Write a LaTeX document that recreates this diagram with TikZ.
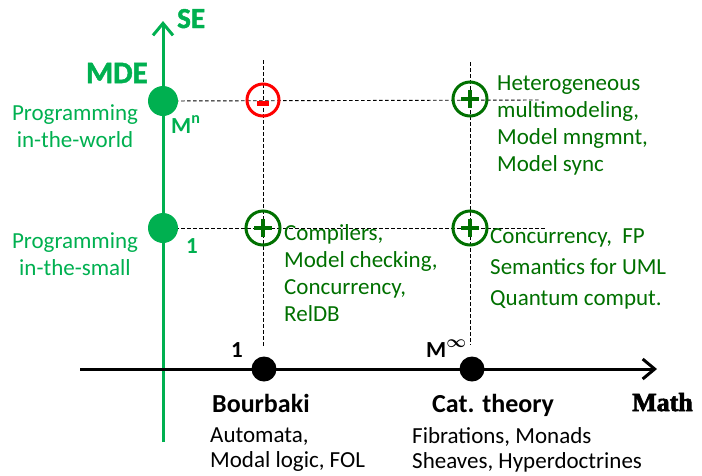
\documentclass[tikz,border=0pt]{standalone}
\usepackage{amsmath}
\usepackage{bm}
\usepackage{fontspec}
\setmainfont{Carlito}
\newfontfamily\heavyfont{Carlito}[BoldFeatures={FakeBold=1.6}]
\newfontfamily\slabfont{Liberation Serif}[BoldFeatures={FakeBold=2.5}]
\usetikzlibrary{positioning,arrows.meta}
\tikzset{>={Straight Barb[length=12pt,width=20pt]}}
\definecolor{segreen}{RGB}{0,176,80}
\definecolor{dkgreen}{RGB}{0,112,0}
\tikzset{
  gridline/.style={dash pattern=on 3.5pt off 2.5pt, line width=0.9pt},
  axis/.style={line width=3pt},
  ring/.style={line width=3pt},
  txt/.style={font=\fontsize{23}{27}\selectfont, inner sep=0pt},
  boldtxt/.style={font=\fontsize{23}{27}\selectfont\bfseries, inner sep=0pt},
  headtxt/.style={font=\fontsize{26}{27}\selectfont\bfseries, inner sep=0pt}
}

\begin{document}
\begin{tikzpicture}[x=1pt,y=-1pt]
\useasboundingbox (0,0) rectangle (702,475);
% axes and points
\coordinate (SEbot) at (163,442);
\coordinate (SEtop) at (163,21);
\coordinate (Mleft) at (80,369);
\coordinate (Mright) at (657,369);
\coordinate (W) at (163,101);
\coordinate (S) at (163,228);
\coordinate (B) at (264,369);
\coordinate (C) at (472,369);
% cells
\coordinate (BW) at (263,100);
\coordinate (CW) at (470,99);
\coordinate (BS) at (263,228);
\coordinate (CS) at (470,228);
\coordinate (Wend) at (540,100);
\coordinate (Send) at (545,228);
\coordinate (Btop) at (263,60);
\coordinate (Bend) at (263,347);
\coordinate (Ctop) at (470,62);
\coordinate (Cend) at (470,345);
\draw[gridline] (W) -- (Wend);
\draw[gridline] (S) -- (Send);
\draw[gridline] (Btop) -- (Bend);
\draw[gridline] (Ctop) -- (Cend);
\draw[axis,segreen,->] (SEbot) -- (SEtop);
\draw[axis,->] (Mleft) -- (Mright);
\fill[segreen] (W) circle[radius=15];
\fill[segreen] (S) circle[radius=15];
\fill (B) circle[radius=12.5];
\fill (C) circle[radius=12.5];
% minus and plus
\draw[ring,red] (BW) circle[radius=16];
\draw[red,line width=5pt] (BW) ++(-6,3) -- ++(12,0);
\foreach \p in {CW,BS,CS}{
  \draw[ring,dkgreen] (\p) circle[radius=17];
  \draw[dkgreen,line width=3.5pt] (\p) ++(-9,0) -- ++(18,0) (\p) ++(0,-9) -- ++(0,18);
}
% SE side
\node[segreen,font=\heavyfont\bfseries\fontsize{29}{30}\selectfont,inner sep=0pt,anchor=base west] (se) at (177,28) {SE};
\node[segreen,font=\heavyfont\bfseries\fontsize{31}{32}\selectfont,inner sep=0pt,anchor=base east] (mde) at (148,83) {MDE};
\node[boldtxt,segreen,anchor=base west] (mn) at (171,133) {M\textsuperscript{n}};
\node[boldtxt,segreen,anchor=base west] (one) at (186,253) {1};
\node[txt,segreen,align=center] (world) at (75,126) {Programming\\in-the-world};
\node[txt,segreen,align=center] (small) at (75,254) {Programming\\in-the-small};
% Math side
\node[boldtxt,anchor=base] (b1) at (237,357) {1};
\node[boldtxt,anchor=base west] (minf) at (426,357) {M$^{\bm{\infty}}$};
\node[headtxt,anchor=base west] (bourbaki) at (212,412) {Bourbaki};
\node[headtxt,anchor=base west] (cat) at (432,412) {Cat. theory};
\node[txt,align=left,anchor=north west] (bnotes) at (210,428) {Automata,\\[-2pt]Modal logic, FOL};
\node[txt,align=left,anchor=north west] (cnotes) at (412,427) {Fibrations, Monads\\[-2pt]Sheaves, Hyperdoctrines};
\node[font=\slabfont\bfseries\fontsize{26}{27}\selectfont,inner sep=0pt,anchor=base east] (math) at (693,411) {Math};
% cell notes
\node[txt,dkgreen,align=left,anchor=north west] (cwnotes) at (497,76) {Heterogeneous\\multimodeling,\\Model mngmnt,\\Model sync};
\node[txt,dkgreen,align=left,anchor=north west] (bsnotes) at (284,224) {Compilers,\\Model checking,\\Concurrency,\\RelDB};
\node[txt,dkgreen,align=left,anchor=north west] (csnotes) at (490,228) {Concurrency,~ FP\\[4pt]Semantics for UML\\[4pt]Quantum comput.};
\end{tikzpicture}
\end{document}
